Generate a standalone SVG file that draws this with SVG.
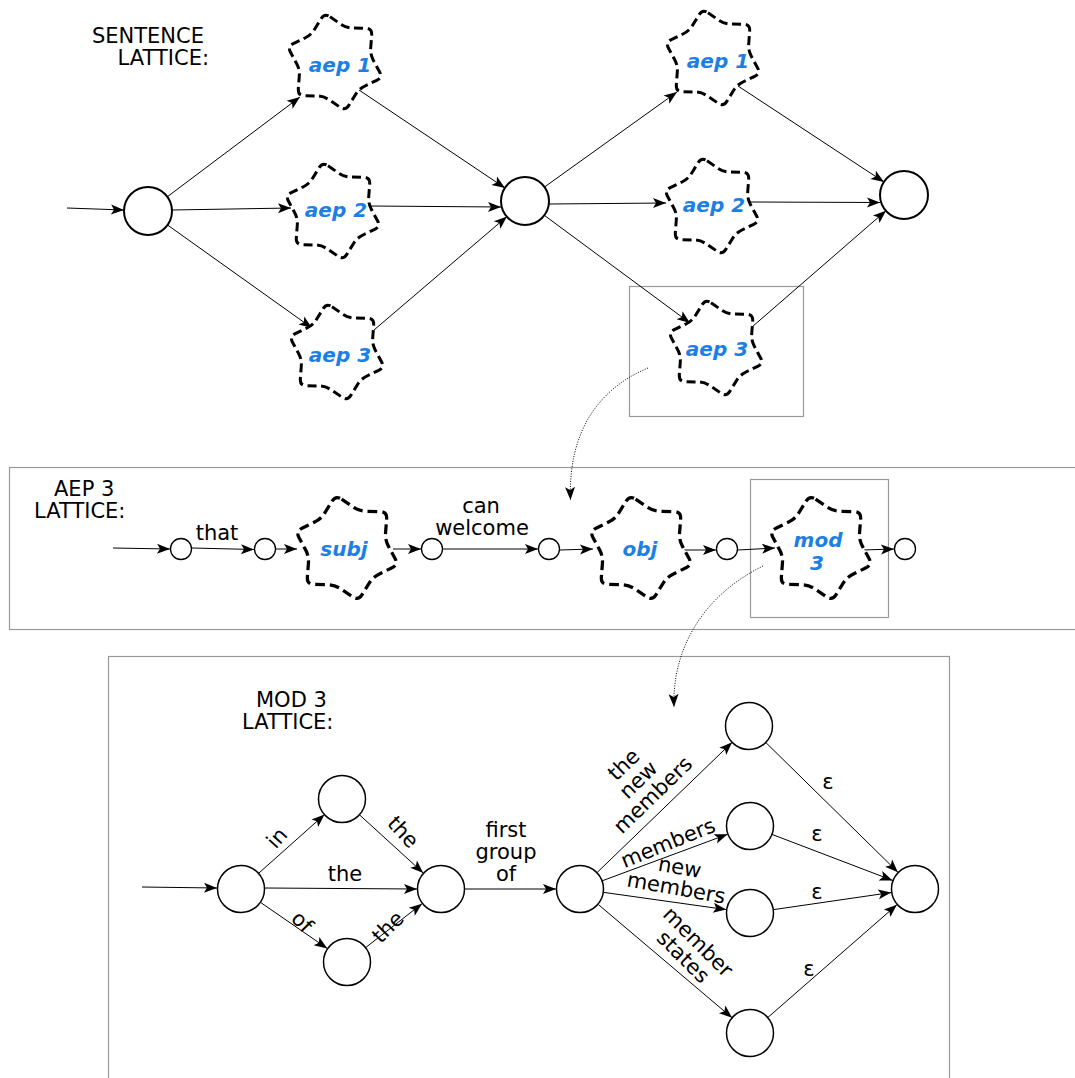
<svg xmlns="http://www.w3.org/2000/svg" width="1075" height="1078" viewBox="0 0 1075 1078">
<style>
.lbl{font-family:"DejaVu Sans",sans-serif;font-size:21px;fill:#000}
.mid{text-anchor:middle}
.end{text-anchor:end}
.aep{font-family:"DejaVu Sans",sans-serif;font-size:20px;font-weight:bold;font-style:oblique;fill:#1c7fe6;text-anchor:middle}
.star{fill:#fff;stroke:#000;stroke-width:3;stroke-dasharray:9,4.5;stroke-linejoin:round}
.big{fill:#fff;stroke:#000;stroke-width:2}
.sm{fill:#fff;stroke:#000;stroke-width:1.3}
.bn{fill:#fff;stroke:#000;stroke-width:1.5}
.e{stroke:#000;stroke-width:1;fill:none;marker-end:url(#ah)}
.dot{stroke:#000;stroke-width:1;fill:none;stroke-dasharray:1,1.5;marker-end:url(#ah)}
.box{fill:none;stroke:#999;stroke-width:1.2}
</style>
<defs>
<marker id="ah" markerUnits="userSpaceOnUse" markerWidth="16" markerHeight="12" refX="13" refY="5" orient="auto" overflow="visible">
<path d="M0,0 L13,5 L0,10 L3,5 z" fill="#000"/>
</marker>
<path id="st" d="M -5.0,-45.2 L 5.7,-37.9 Q 11.1,-34.2 17.6,-34.0 L 30.7,-33.7 Q 37.2,-33.5 36.7,-27.0 L 35.7,-14.0 Q 35.2,-7.5 38.3,-1.75 L 44.5,9.75 Q 47.6,15.5 41.7,18.3 L 30.0,24.0 Q 24.1,26.8 20.7,32.3 L 13.8,43.4 Q 10.4,48.9 5.0,45.2 L -5.7,37.9 Q -11.1,34.2 -17.6,34.0 L -30.7,33.7 Q -37.2,33.5 -36.7,27.0 L -35.7,14.0 Q -35.2,7.5 -38.3,1.75 L -44.5,-9.75 Q -47.6,-15.5 -41.7,-18.3 L -30.0,-24.0 Q -24.1,-26.8 -20.7,-32.3 L -13.8,-43.4 Q -10.4,-48.9 -5.0,-45.2 Z"/>
</defs>
<rect width="1075" height="1078" fill="#fff"/>

<g id="frames">
<rect class="box" x="629.5" y="286.5" width="174" height="130"/>
<rect class="box" x="9.5" y="467.5" width="1080" height="162"/>
<rect class="box" x="750.5" y="479.5" width="138" height="138"/>
<rect class="box" x="108.5" y="656.5" width="841" height="440"/>
</g>

<g id="titles">
<text class="lbl end" x="204" y="43">SENTENCE</text>
<text class="lbl end" x="209" y="65">LATTICE:</text>
<text class="lbl" x="54" y="496">AEP 3</text>
<text class="lbl" x="34" y="518">LATTICE:</text>
<text class="lbl" x="256" y="707">MOD 3</text>
<text class="lbl" x="242" y="729">LATTICE:</text>
</g>

<g id="connectors">
<line class="e" x1="67" y1="208" x2="124" y2="210"/>
<line class="e" x1="167" y1="197" x2="300" y2="97"/>
<line class="e" x1="172" y1="210" x2="291" y2="208"/>
<line class="e" x1="167.5" y1="225" x2="312" y2="328"/>
<line class="e" x1="359" y1="90" x2="505" y2="188"/>
<line class="e" x1="370" y1="206" x2="501" y2="207"/>
<line class="e" x1="374" y1="330" x2="507" y2="216.5"/>
<line class="e" x1="544.5" y1="187" x2="677" y2="92"/>
<line class="e" x1="549" y1="204" x2="666" y2="203"/>
<line class="e" x1="544.3" y1="215.3" x2="690" y2="323"/>
<line class="e" x1="738" y1="86" x2="884" y2="182"/>
<line class="e" x1="750" y1="202" x2="880" y2="202.5"/>
<line class="e" x1="752" y1="327" x2="886" y2="210.7"/>

<line class="e" x1="113" y1="548" x2="170" y2="549"/>
<line class="e" x1="192" y1="548" x2="254" y2="549.5"/>
<line class="e" x1="276" y1="549" x2="297" y2="549"/>
<line class="e" x1="393" y1="549" x2="421" y2="549"/>
<line class="e" x1="443" y1="549" x2="538" y2="549"/>
<line class="e" x1="560" y1="550" x2="593" y2="549"/>
<line class="e" x1="683" y1="550" x2="716" y2="550"/>
<line class="e" x1="738" y1="550" x2="775" y2="548"/>
<line class="e" x1="863" y1="550" x2="894" y2="549"/>

<line class="e" x1="142" y1="887" x2="217" y2="888"/>
<line class="e" x1="258.5" y1="873.4" x2="324.5" y2="814.6"/>
<line class="e" x1="265" y1="888" x2="417" y2="889"/>
<line class="e" x1="260.8" y1="902.6" x2="327.2" y2="948.4"/>
<line class="e" x1="359.8" y1="815.1" x2="423.2" y2="872.9"/>
<line class="e" x1="366" y1="947.3" x2="422" y2="903.7"/>
<line class="e" x1="465" y1="889" x2="556" y2="889"/>
<line class="e" x1="597.3" y1="872.3" x2="732.1" y2="742.3"/>
<line class="e" x1="602.5" y1="880.7" x2="727.5" y2="834.3"/>
<line class="e" x1="603.8" y1="892.4" x2="726.2" y2="909.6"/>
<line class="e" x1="598.3" y1="904.5" x2="732.1" y2="1017.8"/>
<line class="e" x1="766.1" y1="742.8" x2="897.9" y2="872.2"/>
<line class="e" x1="772" y1="834.4" x2="892.6" y2="880.4"/>
<line class="e" x1="773.8" y1="909.6" x2="891.2" y2="892.5"/>
<line class="e" x1="767.8" y1="1017.5" x2="896.9" y2="904.8"/>

<path class="dot" d="M648,368 C600,388 568,430 570.5,500"/>
<path class="dot" d="M763,566 C702,596 672,650 674,707"/>
</g>

<g id="s0"><circle class="big" cx="148" cy="211" r="24"/></g>
<g id="s1"><circle class="big" cx="525" cy="201" r="24"/></g>
<g id="s2"><circle class="big" cx="904" cy="195" r="24"/></g>
<g id="aep1a"><use href="#st" class="star" transform="translate(335,62)"/><text class="aep" x="340" y="72">aep 1</text></g>
<g id="aep2a"><use href="#st" class="star" transform="translate(333,211)"/><text class="aep" x="336" y="217">aep 2</text></g>
<g id="aep3a"><use href="#st" class="star" transform="translate(337,352)"/><text class="aep" x="340" y="362">aep 3</text></g>
<g id="aep1b"><use href="#st" class="star" transform="translate(713,58)"/><text class="aep" x="718" y="68">aep 1</text></g>
<g id="aep2b"><use href="#st" class="star" transform="translate(712,206)"/><text class="aep" x="714" y="212">aep 2</text></g>
<g id="aep3b"><use href="#st" class="star" transform="translate(716,348)"/><text class="aep" x="717" y="356">aep 3</text></g>

<g id="m1"><circle class="sm" cx="181" cy="549" r="10.5"/></g>
<g id="m2"><circle class="sm" cx="265" cy="549" r="10.5"/></g>
<g id="subj"><use href="#st" class="star" transform="translate(347,548) scale(1.08)"/><text class="aep" x="344" y="556">subj</text></g>
<g id="m3"><circle class="sm" cx="432" cy="549" r="10.5"/></g>
<g id="m4"><circle class="sm" cx="549" cy="549" r="10.5"/></g>
<g id="obj"><use href="#st" class="star" transform="translate(641,548) scale(1.08)"/><text class="aep" x="640" y="556">obj</text></g>
<g id="m5"><circle class="sm" cx="727" cy="549" r="10.5"/></g>
<g id="mod3"><use href="#st" class="star" transform="translate(821,548) scale(1.08)"/><text class="aep" x="818" y="547">mod</text><text class="aep" x="817" y="570">3</text></g>
<g id="m6"><circle class="sm" cx="905" cy="549" r="10.5"/></g>

<g id="midlabels">
<text class="lbl mid" x="481" y="513">can</text>
<text class="lbl mid" x="482" y="535">welcome</text>
<text class="lbl mid" x="217" y="540">that</text>
</g>

<g id="b0"><circle class="bn" cx="241" cy="889" r="23.5"/></g>
<g id="b1"><circle class="bn" cx="342" cy="799" r="23.5"/></g>
<g id="b2"><circle class="bn" cx="347" cy="962" r="23.5"/></g>
<g id="b3"><circle class="bn" cx="441" cy="889" r="23.5"/></g>
<g id="b4"><circle class="bn" cx="580" cy="889" r="23.5"/></g>
<g id="t1"><circle class="bn" cx="749" cy="726" r="23.5"/></g>
<g id="t2"><circle class="bn" cx="750" cy="826" r="23.5"/></g>
<g id="t3"><circle class="bn" cx="750" cy="913" r="23.5"/></g>
<g id="t4"><circle class="bn" cx="750" cy="1033" r="23.5"/></g>
<g id="b5"><circle class="bn" cx="915" cy="889" r="23.5"/></g>

<g id="botlabels">
<text class="lbl mid" transform="translate(277,838) rotate(-48)" y="7">in</text>
<text class="lbl mid" transform="translate(403,832) rotate(47)" y="7">the</text>
<text class="lbl mid" x="345" y="881">the</text>
<text class="lbl mid" transform="translate(302,922) rotate(45)" y="7">of</text>
<text class="lbl mid" transform="translate(388,927) rotate(-45)" y="7">the</text>
<text class="lbl mid" x="506" y="837">first</text>
<text class="lbl mid" x="506" y="859">group</text>
<text class="lbl mid" x="506" y="881">of</text>
<g transform="translate(653,795) rotate(-44)">
<text class="lbl mid" y="-35">the</text>
<text class="lbl mid" y="-14">new</text>
<text class="lbl mid" y="7">members</text>
</g>
<text class="lbl mid" transform="translate(668,843) rotate(-22)" y="7">members</text>
<g transform="translate(676,889) rotate(10)">
<text class="lbl mid" y="-15">new</text>
<text class="lbl mid" y="6">members</text>
</g>
<g transform="translate(698,942) rotate(45)">
<text class="lbl mid" y="7">member</text>
<text class="lbl mid" y="28">states</text>
</g>
<text class="lbl mid" x="828" y="789">ε</text>
<text class="lbl mid" x="817" y="841">ε</text>
<text class="lbl mid" x="817" y="899">ε</text>
<text class="lbl mid" x="809" y="976">ε</text>
</g>
</svg>
